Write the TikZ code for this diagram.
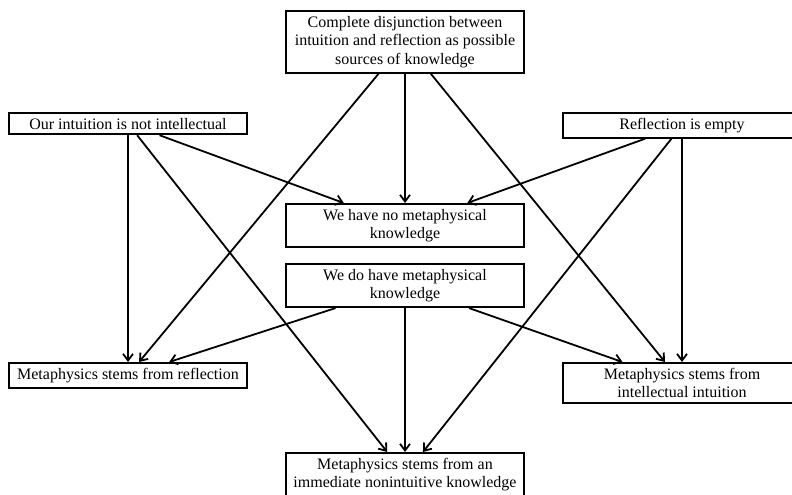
\documentclass[tikz,border=0pt]{standalone}
\usepackage{fontspec}
\setmainfont{Liberation Serif}
\usepackage{tikz}
\usetikzlibrary{arrows.meta}
\definecolor{mydark}{RGB}{0,0,0}
\tikzset{
  box/.style={rectangle, draw=mydark, align=center, minimum width=179pt,
    inner xsep=2pt, inner ysep=3.75pt, line width=1.5pt,
    font=\fontsize{12}{13.9}\selectfont, anchor=north},
  arrow/.style={-{Straight Barb[length=5pt,width=7.5pt]}, line width=1.35pt, color=mydark}
}

\begin{document}
\begin{tikzpicture}[x=0.75pt, y=-0.75pt]
  \useasboundingbox (0,0) rectangle (792,495);
  % premises
  \node[box] (disj) at (405,10) {Complete disjunction between\\intuition and reflection as possible\\sources of knowledge};
  \node[box] (intu) at (128,112) {Our intuition is not intellectual};
  \node[box] (refl) at (682,112) {Reflection is empty};
  % middle
  \node[box] (noknow) at (405,203) {We have no metaphysical\\knowledge};
  \node[box] (know) at (405,263) {We do have metaphysical\\knowledge};
  % sources
  \node[box] (fromrefl) at (128,362) {Metaphysics stems from reflection};
  \node[box] (fromintu) at (682,362) {Metaphysics stems from\\intellectual intuition};
  \node[box] (fromimm) at (405,452) {Metaphysics stems from an\\immediate nonintuitive knowledge};
  % arrows
  \draw[arrow] (disj) -- (noknow);
  \draw[arrow] (disj) -- (fromrefl);
  \draw[arrow] (disj) -- (fromintu);
  \draw[arrow] (intu) -- (noknow);
  \draw[arrow] (intu) -- (fromrefl);
  \draw[arrow] (intu) -- (fromimm);
  \draw[arrow] (refl) -- (noknow);
  \draw[arrow] (refl) -- (fromintu);
  \draw[arrow] (refl) -- (fromimm);
  \draw[arrow] (know) -- (fromrefl);
  \draw[arrow] (know) -- (fromintu);
  \draw[arrow] (know) -- (fromimm);
\end{tikzpicture}
\end{document}
